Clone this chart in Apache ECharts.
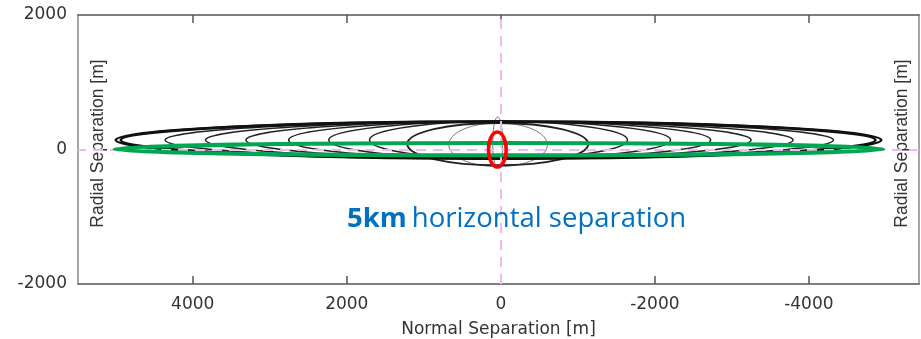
<!DOCTYPE html>
<html>
<head>
<meta charset="utf-8">
<script src="https://cdn.jsdelivr.net/npm/echarts@6/dist/echarts.min.js"></script>
<style>
html,body{margin:0;padding:0;background:#fff;}
#chart{width:921px;height:339px;}
</style>
</head>
<body>
<div id="chart"></div>
<script>
// ---- data (metres) ----
const xTickValues = [4000, 2000, 0, -2000, -4000];
const yTickValues = [2000, 0, -2000];
const xRange = [-5430, 5490];
const yRange = [-2000, 2000];
const refLinesX = [0];
const refLinesY = [0];
// ellipses: [centreNormal, centreRadial, semiAxisNormal, semiAxisRadial]
const outerEllipses = [[30, 140, 4970, 275], [35, 140, 4900, 272]];
const innerEllipses = [
  [20, 140, 4340, 275], [20, 140, 3815, 275], [30, 140, 3280, 275],
  [15, 140, 2740, 275], [15, 140, 2220, 275], [30, 140, 1675, 275]
];
const midEllipses = [[40, 80, 1175, 315]];
const grayEllipses = [[35, 70, 640, 325], [40, 104, 65, 380]];
const greenEllipse = [[25, 5, 4990, 90]];
const redEllipse = [[45, 0, 115, 260]];
const annotationBold = '5km';
const annotationText = 'horizontal separation';

function ellipseSeries(data, color, width, z) {
  return {
    type: 'custom', coordinateSystem: 'cartesian2d', data: data, z: z, silent: true,
    encode: {x: 0, y: 1},
    renderItem: function (params, api) {
      const c = api.coord([api.value(0), api.value(1)]);
      const s = api.size([api.value(2), api.value(3)]);
      return {
        type: 'ellipse',
        shape: {cx: c[0], cy: c[1], rx: s[0], ry: s[1]},
        style: {fill: 'none', stroke: color, lineWidth: width}
      };
    }
  };
}

const chart = echarts.init(document.getElementById('chart'));
const labelFont = {fontFamily: 'DejaVu Sans', fontSize: 17, color: '#333'};
const plainNum = v => String(v);
const vertName = 'Radial Separation [m]';
chart.setOption({
  animation: false,
  backgroundColor: '#fff',
  grid: {left: 78, right: 2, top: 15, bottom: 55, containLabel: false, outerBoundsMode: 'none'},
  title: {
    text: '{b|' + annotationBold + '} {n|' + annotationText + '}',
    left: 347, top: 205, padding: 0,
    textStyle: {
      rich: {
        b: {fontFamily: 'Open Sans', fontWeight: 'bold', fontSize: 27.5, color: '#0070c0'},
        n: {fontFamily: 'Open Sans', fontWeight: 'normal', fontSize: 27.5, color: '#0070c0'}
      }
    }
  },
  xAxis: [
    {
      type: 'value', position: 'bottom', min: xRange[0], max: xRange[1], inverse: true,
      splitLine: {show: false},
      axisLine: {show: true, onZero: false, lineStyle: {color: '#555', width: 1.5}},
      axisTick: {show: true, inside: true, length: 8, customValues: xTickValues, lineStyle: {color: '#555', width: 1.5}},
      axisLabel: Object.assign({customValues: xTickValues, margin: 12, formatter: plainNum}, labelFont),
      name: 'Normal Separation [m]', nameLocation: 'middle', nameGap: 37,
      nameTextStyle: labelFont
    },
    {
      type: 'value', position: 'top', min: xRange[0], max: xRange[1], inverse: true,
      splitLine: {show: false},
      axisLine: {show: true, onZero: false, lineStyle: {color: '#555', width: 1.5}},
      axisTick: {show: true, inside: true, length: 8, customValues: xTickValues, lineStyle: {color: '#555', width: 1.5}},
      axisLabel: {show: false}
    }
  ],
  yAxis: [
    {
      type: 'value', position: 'left', min: yRange[0], max: yRange[1], interval: 2000,
      splitLine: {show: false},
      axisLine: {show: true, onZero: false, lineStyle: {color: '#888', width: 1.5}},
      axisTick: {show: false},
      axisLabel: Object.assign({customValues: yTickValues, margin: 11, formatter: plainNum}, labelFont),
      name: vertName, nameLocation: 'middle', nameGap: -29,
      nameTextStyle: {fontFamily: 'Liberation Sans', fontSize: 17.5, color: '#333', padding: [0, 0, 0, 12]}
    },
    {
      type: 'value', position: 'right', min: yRange[0], max: yRange[1], interval: 2000,
      splitLine: {show: false},
      axisLine: {show: true, onZero: false, lineStyle: {color: '#888', width: 1.5}},
      axisTick: {show: false},
      axisLabel: {show: false},
      name: vertName, nameLocation: 'middle', nameGap: -26, nameRotate: 90,
      nameTextStyle: {fontFamily: 'Liberation Sans', fontSize: 17.5, color: '#333', padding: [0, 0, 0, 12]}
    }
  ],
  series: [
    {
      type: 'line', data: [], z: 1, silent: true,
      markLine: {
        silent: true, symbol: 'none', animation: false,
        label: {show: false},
        lineStyle: {color: '#f2b8f2', width: 2, type: [10, 7]},
        data: refLinesX.map(v => ({xAxis: v})).concat(refLinesY.map(v => ({yAxis: v})))
      }
    },
    ellipseSeries(grayEllipses, '#777', 1, 2),
    ellipseSeries(innerEllipses, '#222', 1.5, 3),
    ellipseSeries(midEllipses, '#222', 2, 3),
    ellipseSeries(outerEllipses, '#111', 2.6, 4),
    ellipseSeries(greenEllipse, '#00a651', 4, 5),
    ellipseSeries(redEllipse, '#ff0000', 3.5, 6)
  ]
});
</script>
</body>
</html>
